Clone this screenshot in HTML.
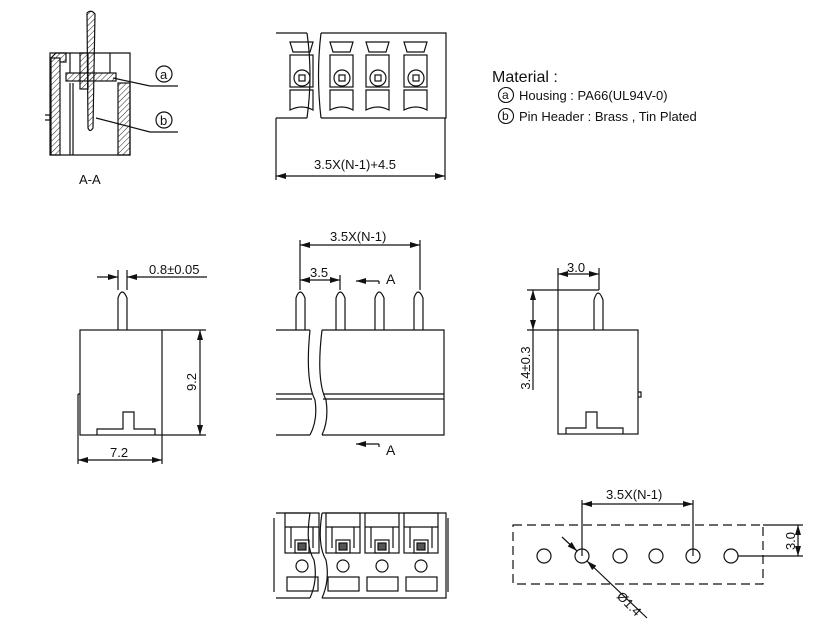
<!DOCTYPE html>
<html><head><style>body{margin:0;background:#fff}svg{display:block}text{font-family:"Liberation Sans",sans-serif;fill:#111}</style></head><body>
<svg width="820" height="636" viewBox="0 0 820 636" xmlns="http://www.w3.org/2000/svg">
<defs>
<pattern id="h" width="4" height="4" patternUnits="userSpaceOnUse" patternTransform="rotate(45)"><line x1="0" y1="0" x2="0" y2="4" stroke="#222" stroke-width="1"/></pattern>
<marker id="a" viewBox="0 0 10 6" refX="10" refY="3" markerWidth="10" markerHeight="6" orient="auto-start-reverse" markerUnits="userSpaceOnUse"><path d="M0,0L10,3L0,6z" fill="#111"/></marker>
</defs>
<g fill="none" stroke="#111" stroke-width="1.2">
<path d="M50,53 L130,53 L130,155 L50,155 Z"/>
<rect x="51" y="58" width="9" height="97" fill="url(#h)"/>
<path d="M51,58 L56,53 L66,53 L66,62 L60,62" fill="url(#h)"/>
<rect x="118" y="83" width="12" height="72" fill="url(#h)"/>
<rect x="66" y="73" width="50" height="8" fill="url(#h)"/>
<rect x="80" y="53" width="8" height="36" fill="url(#h)"/>
<line x1="70" y1="83" x2="70" y2="155"/><line x1="73" y1="83" x2="73" y2="155"/>
<line x1="110" y1="53" x2="110" y2="73"/><line x1="70" y1="53" x2="70" y2="73"/>
<path d="M45,115 L50,115 L50,120 L45,120" />
<path d="M87,13 Q91,9 95,14 L93,128 Q90,133 88,128 Z" fill="url(#h)"/>
<line x1="113" y1="78" x2="150" y2="86"/><line x1="150" y1="86" x2="178" y2="86"/>
<line x1="96" y1="118" x2="150" y2="132"/><line x1="150" y1="132" x2="178" y2="132"/>
<circle cx="164" cy="74" r="8"/><circle cx="164" cy="120" r="8"/>
<path d="M276,33 L307,33 M321,33 L446,33 L446,118 L321,118 M307,118 L276,118 Z"/>
<path d="M307,33 Q313,75 307,118 M321,33 Q316,75 321,118"/>
<g id="cell">
<path d="M330,42 L353,42 L350,52 L333,52 Z"/>
<rect x="330" y="55" width="23" height="32"/>
<circle cx="342" cy="78" r="8"/><rect x="339" y="75" width="6" height="6"/>
<path d="M330,90 L353,90 L353,110 Q342,104 330,110 Z"/>
</g>
<use href="#cell" x="36"/><use href="#cell" x="74"/><use href="#cell" x="-40"/>
<line x1="276" y1="118" x2="276" y2="180"/><line x1="445" y1="118" x2="445" y2="180"/>
<line x1="276" y1="176" x2="445" y2="176" marker-start="url(#a)" marker-end="url(#a)"/>
<rect x="80" y="330" width="82" height="105"/>
<path d="M78,394 L78,455 M80,394 L78,394"/>
<path d="M97,435 L97,429 L123,429 L123,412 L134,412 L134,429 L155,429 L155,435"/>
<path d="M118,330 L118,298 Q122,286 127,298 L127,330"/>
<line x1="118" y1="270" x2="118" y2="290"/><line x1="127" y1="270" x2="127" y2="290"/>
<line x1="97" y1="277" x2="118" y2="277" marker-end="url(#a)"/>
<line x1="207" y1="277" x2="127" y2="277" marker-end="url(#a)"/>
<line x1="162" y1="330" x2="206" y2="330"/><line x1="162" y1="435" x2="206" y2="435"/>
<line x1="200" y1="330" x2="200" y2="435" marker-start="url(#a)" marker-end="url(#a)"/>
<line x1="78" y1="455" x2="78" y2="464"/><line x1="162" y1="435" x2="162" y2="464"/>
<line x1="78" y1="460" x2="162" y2="460" marker-start="url(#a)" marker-end="url(#a)"/>
<path d="M276,330 L310,330 M322,330 L444,330 L444,435 L322,435 M310,435 L276,435 Z"/>
<path d="M310,330 Q305,380 315,400 Q318,420 310,435 M322,330 Q316,380 326,400 Q329,420 322,435"/>
<line x1="276" y1="394" x2="312" y2="394"/><line x1="276" y1="399" x2="312" y2="399"/>
<line x1="323" y1="394" x2="444" y2="394"/><line x1="323" y1="399" x2="444" y2="399"/>
<path d="M296,330 L296,298 Q300,286 305,298 L305,330"/>
<path d="M336,330 L336,298 Q340,286 345,298 L345,330"/>
<path d="M375,330 L375,298 Q379,286 384,298 L384,330"/>
<path d="M414,330 L414,298 Q418,286 423,298 L423,330"/>
<line x1="300" y1="240" x2="300" y2="290"/><line x1="420" y1="240" x2="420" y2="290"/><line x1="340" y1="275" x2="340" y2="290"/>
<line x1="300" y1="245" x2="420" y2="245" marker-start="url(#a)" marker-end="url(#a)"/>
<line x1="300" y1="280" x2="340" y2="280" marker-start="url(#a)" marker-end="url(#a)"/>
<path d="M379,281 L379,284"/><line x1="379" y1="281" x2="356" y2="281" marker-end="url(#a)"/>
<path d="M379,444 L379,447"/><line x1="379" y1="444" x2="356" y2="444" marker-end="url(#a)"/>
<rect x="558" y="330" width="80" height="104"/>
<path d="M638,392 L641,392 L641,397 L638,397"/>
<path d="M566,434 L566,428 L586,428 L586,412 L597,412 L597,428 L623,428 L623,434"/>
<path d="M594,330 L594,300 Q598,286 603,300 L603,330"/>
<line x1="558" y1="268" x2="558" y2="330"/><line x1="599" y1="268" x2="599" y2="290"/>
<line x1="558" y1="274" x2="599" y2="274" marker-start="url(#a)" marker-end="url(#a)"/>
<line x1="527" y1="290" x2="599" y2="290"/><line x1="527" y1="330" x2="558" y2="330"/>
<line x1="533" y1="290" x2="533" y2="330" marker-start="url(#a)" marker-end="url(#a)"/>
<line x1="533" y1="330" x2="533" y2="390"/>
<path d="M276,513 L310,513 M322,513 L446,513 L446,598 L322,598 M310,598 L276,598 Z"/>
<path d="M310,513 Q305,545 314,560 Q318,580 310,598 M322,513 Q317,545 326,560 Q330,580 322,598"/>
<line x1="274" y1="518" x2="274" y2="592"/><line x1="448" y1="518" x2="448" y2="592"/>
<g id="bc">
<line x1="326" y1="527" x2="360" y2="527"/>
<rect x="326" y="513" width="34" height="40"/>
<path d="M332,527 L332,548 M354,527 L354,548"/>
<rect x="336" y="540" width="14" height="13"/><rect x="339" y="543" width="8" height="7" fill="#555"/>
<circle cx="343" cy="566" r="6"/>
<rect x="328" y="577" width="31" height="14"/>
</g>
<use href="#bc" x="39"/><use href="#bc" x="78"/><use href="#bc" x="-41"/>
<rect x="513" y="525" width="250" height="59" stroke-dasharray="9,5"/>
<circle cx="544" cy="556" r="7"/><circle cx="582" cy="556" r="7"/><circle cx="620" cy="556" r="7"/><circle cx="656" cy="556" r="7"/><circle cx="693" cy="556" r="7"/><circle cx="731" cy="556" r="7"/>
<line x1="582" y1="500" x2="582" y2="556"/><line x1="693" y1="500" x2="693" y2="556"/>
<line x1="582" y1="504" x2="693" y2="504" marker-start="url(#a)" marker-end="url(#a)"/>
<line x1="738" y1="556" x2="803" y2="556"/><line x1="763" y1="525" x2="803" y2="525"/>
<line x1="798" y1="525" x2="798" y2="556" marker-start="url(#a)" marker-end="url(#a)"/>
<line x1="562" y1="537" x2="577" y2="551" marker-end="url(#a)"/>
<line x1="647" y1="618" x2="587" y2="561" marker-end="url(#a)"/>
</g>
<g font-size="13">
<text x="160" y="79">a</text><text x="160" y="125">b</text>
<text x="79" y="184">A-A</text>
<text x="314" y="169">3.5X(N-1)+4.5</text>
<text x="149" y="274">0.8±0.05</text>
<text x="196" y="382" transform="rotate(-90 196 382)" text-anchor="middle">9.2</text>
<text x="110" y="457">7.2</text>
<text x="330" y="241">3.5X(N-1)</text>
<text x="310" y="277">3.5</text>
<text x="386" y="284" font-size="14">A</text>
<text x="386" y="455" font-size="14">A</text>
<text x="567" y="272">3.0</text>
<text x="530" y="368" transform="rotate(-90 530 368)" text-anchor="middle">3.4±0.3</text>
<text x="606" y="499">3.5X(N-1)</text>
<text x="795" y="541" transform="rotate(-90 795 541)" text-anchor="middle">3.0</text>
<text x="616" y="597" transform="rotate(45 616 597)">Ø1.4</text>
<text x="492" y="82" font-size="16">Material :</text>
<text x="519" y="100">Housing : PA66(UL94V-0)</text>
<text x="519" y="121">Pin Header : Brass , Tin Plated</text>
<text x="502" y="99" font-size="12">a</text><text x="502" y="120" font-size="12">b</text>
</g>
<circle cx="506" cy="95" r="7.5" fill="none" stroke="#111" stroke-width="1.1"/>
<circle cx="506" cy="116" r="7.5" fill="none" stroke="#111" stroke-width="1.1"/>
</svg>
</body></html>
